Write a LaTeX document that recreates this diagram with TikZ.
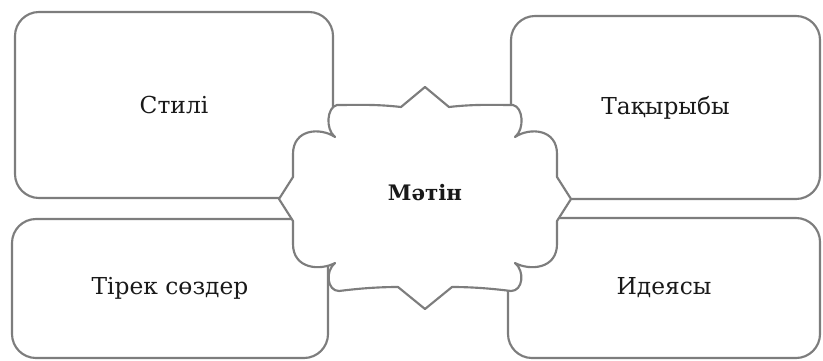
\documentclass[tikz,border=0pt]{standalone}
\usepackage{fontspec}
\setmainfont{DejaVu Serif}
\definecolor{framegray}{RGB}{125,125,125}
\tikzset{
    topic/.style 2 args={draw=framegray, line width=1.6pt, rounded corners=18pt, fill=white,
        minimum width=#1*0.75pt, minimum height=#2*0.75pt, inner sep=0pt},
}

\begin{document}
\begin{tikzpicture}[x=0.75pt,y=-0.75pt,
    every node/.style={font=\fontsize{17.5}{20}\selectfont, text=black!90},
    frame/.style={draw=framegray, line width=1.6pt, fill=white, line join=round},
]
\useasboundingbox (0,0) rectangle (823,360);

% four boxes behind the frame
\node[topic={318}{186}] (stil) at (174,105) {Стилі};
\node[topic={316}{139}] (tirek) at (170,288.5) {Тірек сөздер};
\node[topic={309}{183}] (takyryp) at (665.5,107.5) {Тақырыбы};
\node[topic={312}{140}] (ideya) at (664,288) {Идеясы};

% central frame
\begin{scope}[shift={(425,199)}]
\draw[frame] (0,-112) -- (24,-92)
    .. controls (50,-95) and (70,-94) .. (88,-94)
    .. controls (98,-92) and (100,-70) .. (90,-62)
    .. controls (105,-72) and (132,-70) .. (132,-45) -- (132,-22) -- (146,0)
    -- (132,22) -- (132,45)
    .. controls (132,70) and (105,72) .. (90,64)
    .. controls (100,72) and (98,92) .. (86,92)
    .. controls (70,90) and (50,88) .. (27,88) -- (0,110)
    -- (-27,88)
    .. controls (-50,88) and (-70,90) .. (-86,92)
    .. controls (-98,92) and (-100,72) .. (-90,64)
    .. controls (-105,72) and (-132,70) .. (-132,45) -- (-132,22) -- (-146,0)
    -- (-132,-22) -- (-132,-45)
    .. controls (-132,-70) and (-105,-72) .. (-90,-62)
    .. controls (-100,-70) and (-98,-92) .. (-88,-94)
    .. controls (-70,-94) and (-50,-95) .. (-24,-92) -- cycle;
\node[font=\fontsize{16}{19}\selectfont\bfseries] (matin) at (0,-6) {Мәтін};
\end{scope}
\end{tikzpicture}
\end{document}
